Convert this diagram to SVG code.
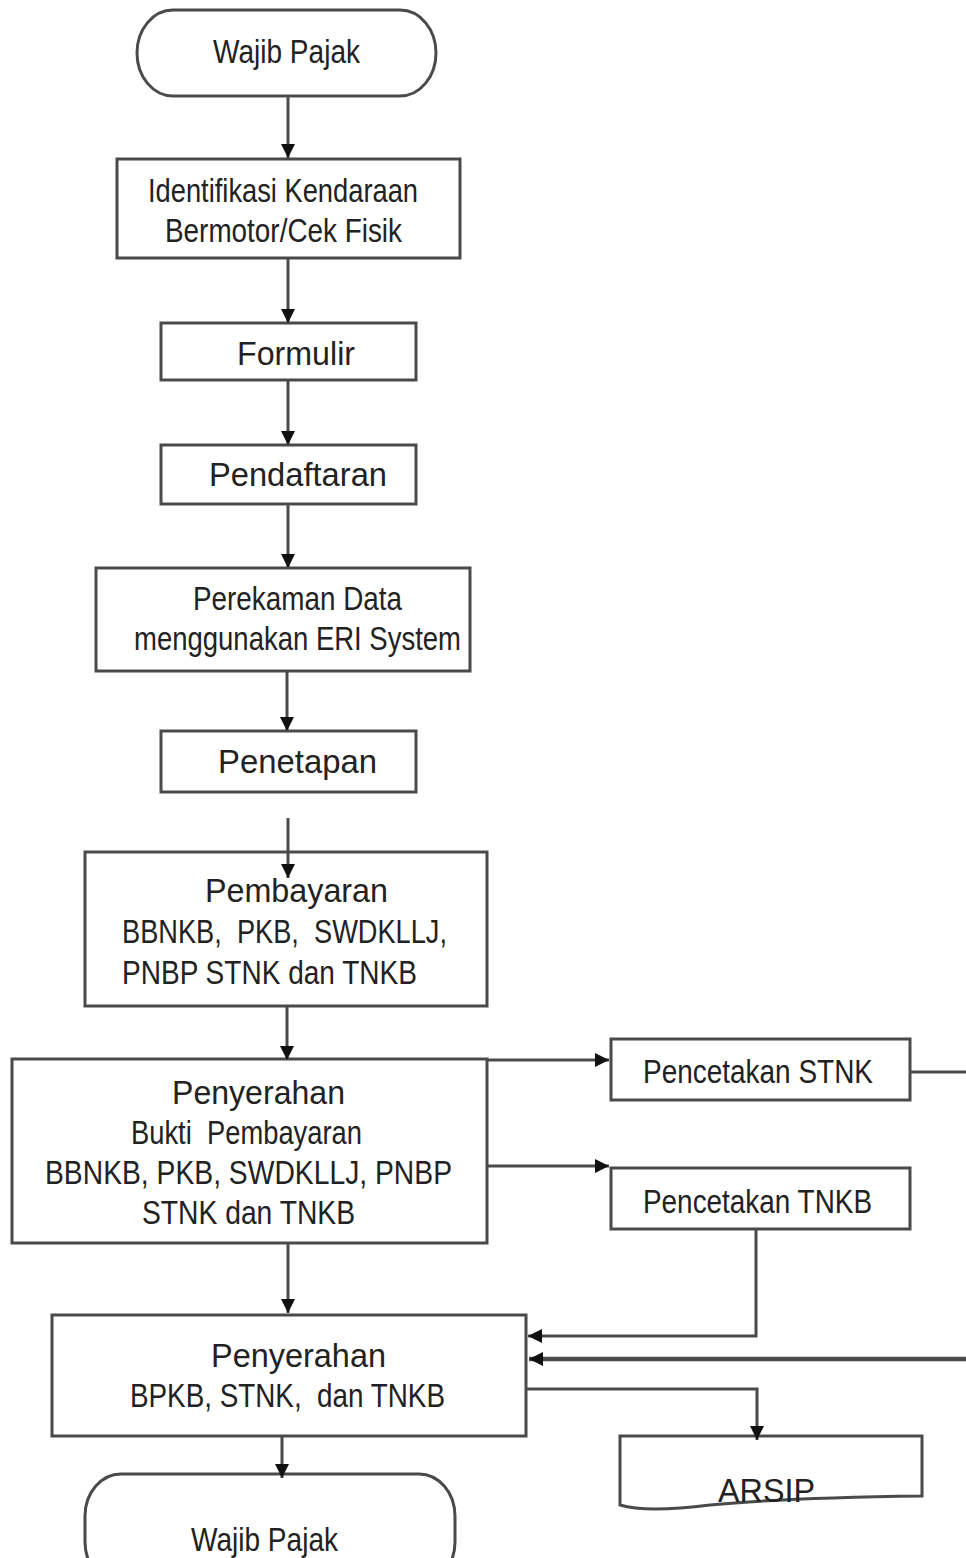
<svg xmlns="http://www.w3.org/2000/svg" width="966" height="1558" viewBox="0 0 966 1558">
<style>
.box{fill:#fff;stroke:#4a4a4a;stroke-width:3}
.t{font-family:"Liberation Sans",Arial,sans-serif;font-size:33px;fill:#222}
.c{fill:none;stroke:#4a4a4a;stroke-width:3}
.thick{stroke-width:4.5}
</style>
<defs>
<marker id="ah" markerUnits="userSpaceOnUse" markerWidth="16" markerHeight="16" refX="14" refY="7" orient="auto" viewBox="0 0 16 16">
<path d="M0,0 L14,7 L0,14 Z" fill="#111"/>
</marker>
</defs>
<rect width="966" height="1558" fill="#fff"/>

<g id="start">
<rect class="box" x="137" y="10" width="299" height="86" rx="36" ry="43"/>
<text class="t" x="213" y="63" textLength="147" lengthAdjust="spacingAndGlyphs">Wajib Pajak</text>
</g>
<g id="identifikasi">
<rect class="box" x="117" y="159" width="343" height="99"/>
<text class="t" x="148" y="202" textLength="270" lengthAdjust="spacingAndGlyphs">Identifikasi Kendaraan</text>
<text class="t" x="165" y="242" textLength="237" lengthAdjust="spacingAndGlyphs">Bermotor/Cek Fisik</text>
</g>
<g id="formulir">
<rect class="box" x="161" y="323" width="255" height="57"/>
<text class="t" x="237" y="365" textLength="118" lengthAdjust="spacingAndGlyphs">Formulir</text>
</g>
<g id="pendaftaran">
<rect class="box" x="161" y="445" width="255" height="59"/>
<text class="t" x="209" y="486" textLength="178" lengthAdjust="spacingAndGlyphs">Pendaftaran</text>
</g>
<g id="perekaman">
<rect class="box" x="96" y="568" width="374" height="103"/>
<text class="t" x="193" y="610" textLength="209" lengthAdjust="spacingAndGlyphs">Perekaman Data</text>
<text class="t" x="134" y="650" textLength="327" lengthAdjust="spacingAndGlyphs">menggunakan ERI System</text>
</g>
<g id="penetapan">
<rect class="box" x="161" y="731" width="255" height="61"/>
<text class="t" x="218" y="773" textLength="159" lengthAdjust="spacingAndGlyphs">Penetapan</text>
</g>
<g id="pembayaran">
<rect class="box" x="85" y="852" width="402" height="154"/>
<text class="t" x="205" y="902" textLength="183" lengthAdjust="spacingAndGlyphs">Pembayaran</text>
<text class="t" x="122" y="943" textLength="325" lengthAdjust="spacingAndGlyphs" xml:space="preserve">BBNKB,  PKB,  SWDKLLJ,</text>
<text class="t" x="122" y="984" textLength="295" lengthAdjust="spacingAndGlyphs">PNBP STNK dan TNKB</text>
</g>
<g id="penyerahan1">
<rect class="box" x="12" y="1059" width="475" height="184"/>
<text class="t" x="172" y="1104" textLength="173" lengthAdjust="spacingAndGlyphs">Penyerahan</text>
<text class="t" x="131" y="1144" textLength="231" lengthAdjust="spacingAndGlyphs" xml:space="preserve">Bukti  Pembayaran</text>
<text class="t" x="45" y="1184" textLength="407" lengthAdjust="spacingAndGlyphs">BBNKB, PKB, SWDKLLJ, PNBP</text>
<text class="t" x="142" y="1224" textLength="213" lengthAdjust="spacingAndGlyphs">STNK dan TNKB</text>
</g>
<g id="stnk">
<rect class="box" x="611" y="1039" width="299" height="61"/>
<text class="t" x="643" y="1083" textLength="230" lengthAdjust="spacingAndGlyphs">Pencetakan STNK</text>
</g>
<g id="tnkb">
<rect class="box" x="611" y="1168" width="299" height="61"/>
<text class="t" x="643" y="1213" textLength="229" lengthAdjust="spacingAndGlyphs">Pencetakan TNKB</text>
</g>
<g id="penyerahan2">
<rect class="box" x="52" y="1315" width="474" height="121"/>
<text class="t" x="211" y="1367" textLength="175" lengthAdjust="spacingAndGlyphs">Penyerahan</text>
<text class="t" x="130" y="1407" textLength="315" lengthAdjust="spacingAndGlyphs" xml:space="preserve">BPKB, STNK,  dan TNKB</text>
</g>
<g id="arsip">
<path class="box" d="M620,1436 H922 V1496 C850,1497 770,1499 710,1505 C670,1510 640,1511 620,1505 Z"/>
<text class="t" x="718" y="1502" textLength="97" lengthAdjust="spacingAndGlyphs">ARSIP</text>
</g>
<g id="end">
<rect class="box" x="85" y="1474" width="370" height="110" rx="36" ry="42"/>
<text class="t" x="191" y="1551" textLength="147" lengthAdjust="spacingAndGlyphs">Wajib Pajak</text>
</g>

<g id="connectors">
<line class="c" x1="288" y1="96" x2="288" y2="158" marker-end="url(#ah)"/>
<line class="c" x1="288" y1="258" x2="288" y2="323" marker-end="url(#ah)"/>
<line class="c" x1="288" y1="380" x2="288" y2="445" marker-end="url(#ah)"/>
<line class="c" x1="288" y1="504" x2="288" y2="568" marker-end="url(#ah)"/>
<line class="c" x1="287" y1="671" x2="287" y2="731" marker-end="url(#ah)"/>
<line class="c" x1="288" y1="818" x2="288" y2="878" marker-end="url(#ah)"/>
<line class="c" x1="287" y1="1006" x2="287" y2="1060" marker-end="url(#ah)"/>
<line class="c" x1="487" y1="1060" x2="609" y2="1060" marker-end="url(#ah)"/>
<line class="c" x1="487" y1="1166" x2="609" y2="1166" marker-end="url(#ah)"/>
<line class="c" x1="910" y1="1072" x2="966" y2="1072"/>
<line class="c thick" x1="966" y1="1359" x2="529" y2="1359" marker-end="url(#ah)"/>
<polyline class="c" points="756,1229 756,1336 528,1336" marker-end="url(#ah)"/>
<line class="c" x1="288" y1="1243" x2="288" y2="1313" marker-end="url(#ah)"/>
<polyline class="c" points="526,1389 757,1389 757,1440" marker-end="url(#ah)"/>
<line class="c" x1="282" y1="1436" x2="282" y2="1478" marker-end="url(#ah)"/>
</g>
</svg>
